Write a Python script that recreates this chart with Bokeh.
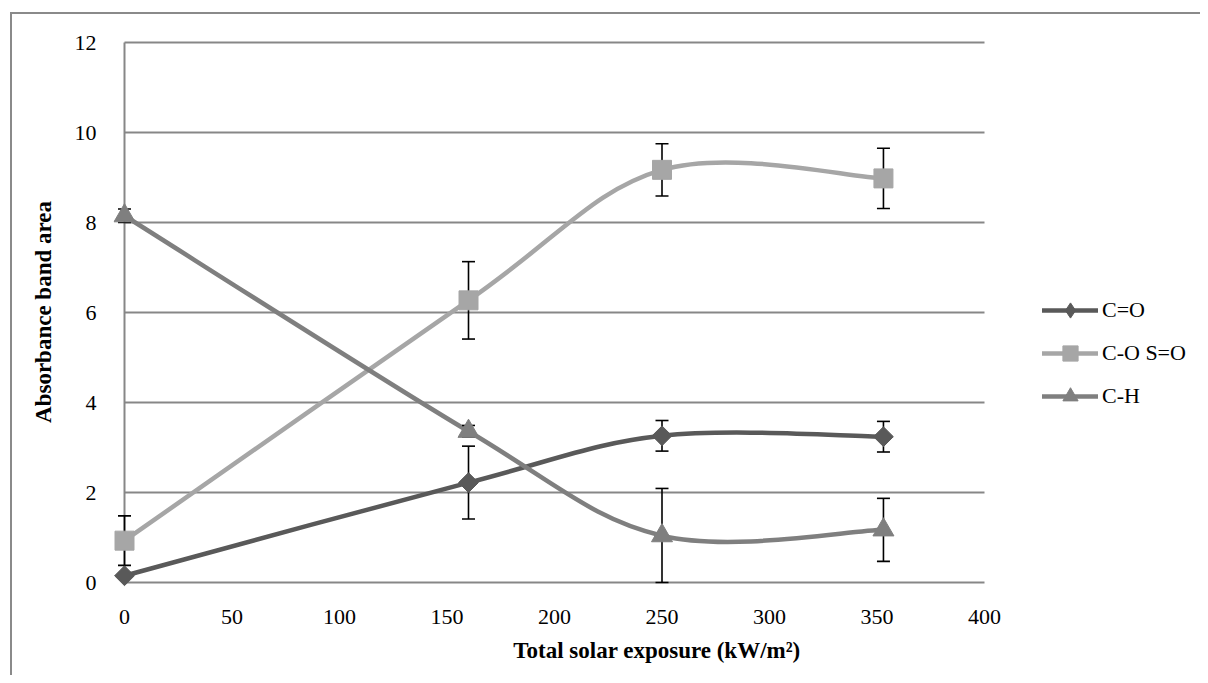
import numpy as np
from bokeh.plotting import figure
from bokeh.models import Range1d, FixedTicker, Legend, LegendItem
from bokeh.embed import file_html
from bokeh.resources import INLINE

# ---------------- data ----------------
exposure = [0, 160, 250, 353]
series_names = ["C=O", "C-O S=O", "C-H"]
co_y = [0.15, 2.22, 3.26, 3.24]
co_err = [0.05, 0.81, 0.34, 0.34]
cos_y = [0.93, 6.27, 9.17, 8.98]
cos_err = [0.55, 0.86, 0.58, 0.67]
ch_y = [8.15, 3.36, 1.04, 1.17]
ch_err = [0.15, 0.13, 1.05, 0.70]
x_ticks = [0, 50, 100, 150, 200, 250, 300, 350, 400]
y_ticks = [0, 2, 4, 6, 8, 10, 12]

FONT = "Liberation Serif"
GRID = "#878787"

W, H = 1200, 675
FL, FR, FT, FB = 113, 1200, 30, 593      # frame edges in px
X0PX, X400PX, Y0PX, Y12PX = 124, 984, 582, 42
sx = (X400PX - X0PX) / 400.0
sy = (Y0PX - Y12PX) / 12.0
x_range = Range1d(-(X0PX - FL) / sx, 400 + (FR - X400PX) / sx)
y_range = Range1d(-(FB - Y0PX) / sy, 12 + (Y12PX - FT) / sy)

p = figure(width=W, height=H, x_range=x_range, y_range=y_range,
           output_backend="svg", toolbar_location=None,
           min_border_left=FL, min_border_right=W - FR,
           min_border_top=FT, min_border_bottom=H - FB)
p.outline_line_color = None
p.xgrid.visible = False
p.ygrid.visible = False
p.background_fill_color = "white"
p.border_fill_alpha = 0
# outer chart border (left and top edges of the chart area)
p.styles = {
    "background-color": "white",
    "background-image": "linear-gradient(#8a8a8a, #8a8a8a), linear-gradient(#8a8a8a, #8a8a8a)",
    "background-position": "10px 12px, 10px 12px",
    "background-size": "2px 100%, 100% 2px",
    "background-repeat": "no-repeat",
}

# gridlines (only between 0 and 400)
gy = [v for v in y_ticks if v > 0]
p.segment(x0=[x_ticks[0]] * len(gy), y0=gy, x1=[x_ticks[-1]] * len(gy), y1=gy,
          line_color=GRID, line_width=1.8)
# axis lines
p.segment(x0=[x_ticks[0], x_ticks[0]], y0=[y_ticks[0], y_ticks[0]],
          x1=[x_ticks[-1], x_ticks[0]], y1=[y_ticks[0], y_ticks[-1]],
          line_color=GRID, line_width=2)

# axes
for ax in (p.xaxis, p.yaxis):
    ax.axis_line_color = None
    ax.major_tick_line_color = None
    ax.minor_tick_line_color = None
    ax.major_label_text_font = FONT
    ax.major_label_text_font_size = "22px"
    ax.major_label_text_color = "black"
    ax.axis_label_text_font = FONT
    ax.axis_label_text_font_size = "23px"
    ax.axis_label_text_font_style = "bold"
    ax.axis_label_text_color = "black"
p.xaxis.ticker = FixedTicker(ticks=x_ticks)
p.yaxis.ticker = FixedTicker(ticks=y_ticks)
p.xaxis.major_label_standoff = 10
p.yaxis.major_label_standoff = 11
p.xaxis.axis_label = "Total solar exposure (kW/m²)"
p.yaxis.axis_label = "Absorbance band area"
p.xaxis.axis_label_standoff = 11
p.yaxis.axis_label_standoff = 16


def bezier_parts(xs, ys):
    n = len(xs)
    P = [np.array([a, b], dtype=float) for a, b in zip(xs, ys)]
    out = {k: [] for k in ("x0", "y0", "x1", "y1", "cx0", "cy0", "cx1", "cy1")}
    for i in range(n - 1):
        p0 = P[max(i - 1, 0)]
        p1 = P[i]
        p2 = P[i + 1]
        p3 = P[min(i + 2, n - 1)]
        c1 = p1 + (p2 - p0) / 6.0
        c2 = p2 - (p3 - p1) / 6.0
        out["x0"].append(p1[0]); out["y0"].append(p1[1])
        out["x1"].append(p2[0]); out["y1"].append(p2[1])
        out["cx0"].append(c1[0]); out["cy0"].append(c1[1])
        out["cx1"].append(c2[0]); out["cy1"].append(c2[1])
    return out


specs = [
    (series_names[0], co_y, co_err, "#595959", dict(marker="square", size=14, angle=np.pi / 4)),
    (series_names[1], cos_y, cos_err, "#a6a6a6", dict(marker="square", size=19)),
    (series_names[2], ch_y, ch_err, "#7f7f7f", dict(marker="triangle", size=21)),
]

curves = []
for name, ys, errs, col, mk in specs:
    b = bezier_parts(exposure, ys)
    r = p.bezier(line_color=col, line_width=4.5, line_cap="round", **b)
    curves.append(r)

# error bars
for name, ys, errs, col, mk in specs:
    lo = [max(y - e, 0.0) for y, e in zip(ys, errs)]
    hi = [y + e for y, e in zip(ys, errs)]
    p.segment(x0=exposure, y0=lo, x1=exposure, y1=hi, line_color="black", line_width=1.6)
    p.scatter(x=exposure + exposure, y=lo + hi, marker="dash", size=13,
              line_color="black", line_width=1.6)

# small diamond under the rotated squares: gives the legend its diamond symbol
diamond_r = p.scatter(x=exposure, y=co_y, marker="diamond", size=8,
                      fill_color=specs[0][3], line_color=specs[0][3])

markers = []
for name, ys, errs, col, mk in specs:
    r = p.scatter(x=exposure, y=ys, fill_color=col, line_color=col, line_width=1, **mk)
    markers.append(r)

legend_marks = [diamond_r, markers[1], markers[2]]
items = [LegendItem(label=s[0], renderers=[c, m]) for s, c, m in zip(specs, curves, legend_marks)]
ROW = 43
GH = 38
top_row = 310
leg_top = top_row - ROW / 2.0 + (ROW - GH) / 2.0
leg_bottom = leg_top + 3 * GH + 2 * (ROW - GH)
legend = Legend(items=items, location=(1042 - FL, FB - leg_bottom), padding=0, margin=0,
                border_line_color=None, background_fill_alpha=0,
                glyph_width=56, glyph_height=GH, label_height=GH, spacing=ROW - GH,
                label_standoff=4, label_text_font=FONT, label_text_font_size="22px",
                label_text_color="black")
p.add_layout(legend, "center")

open("out.html", "w").write(file_html(p, INLINE))
